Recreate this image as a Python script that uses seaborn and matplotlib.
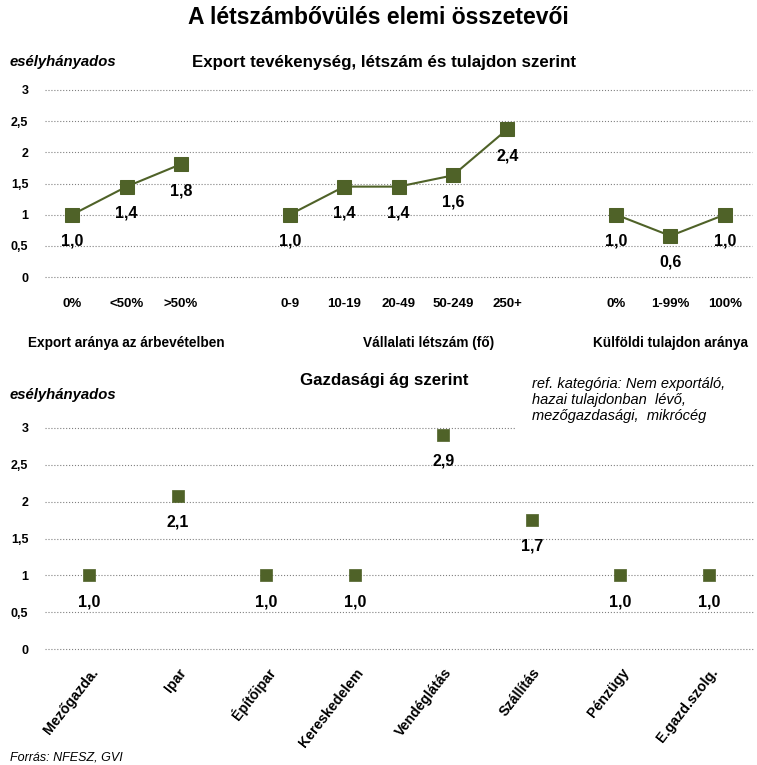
"""
A létszámbővülés elemi összetevői - esélyhányados ábra (két panel)
"""

import pandas as pd
import matplotlib.pyplot as plt
import matplotlib.transforms as mtransforms
import seaborn as sns
from matplotlib.patches import Rectangle

# Adatok - felső panel (export, létszám, tulajdon)
export_cats = ['0%', '<50%', '>50%']
export_vals = [1.0, 1.45, 1.81]
export_lbls = ['1,0', '1,4', '1,8']

letszam_cats = ['0-9', '10-19', '20-49', '50-249', '250+']
letszam_vals = [1.0, 1.45, 1.45, 1.63, 2.37]
letszam_lbls = ['1,0', '1,4', '1,4', '1,6', '2,4']

tulaj_cats = ['0%', '1-99%', '100%']
tulaj_vals = [1.0, 0.66, 1.0]
tulaj_lbls = ['1,0', '0,6', '1,0']

group_names = ['Export aránya az árbevételben',
               'Vállalati létszám (fő)',
               'Külföldi tulajdon aránya']
group_label_x = [1.0, 6.55, 11.0]

# Adatok - alsó panel (gazdasági ág)
ag_cats = ['Mezőgazda.', 'Ipar', 'Építőipar', 'Kereskedelem',
           'Vendéglátás', 'Szállítás', 'Pénzügy', 'E.gazd.szolg.']
ag_vals = [1.0, 2.08, 1.0, 1.0, 2.91, 1.75, 1.0, 1.0]
ag_lbls = ['1,0', '2,1', '1,0', '1,0', '2,9', '1,7', '1,0', '1,0']

y_ticks = [0, 0.5, 1, 1.5, 2, 2.5, 3]
y_tick_lbls = ['0', '0,5', '1', '1,5', '2', '2,5', '3']

GREEN = '#4F6228'
FONT = ['Liberation Sans', 'DejaVu Sans']


def build_top_frame():
    rows = []
    pos = 0
    groups = [(export_cats, export_vals, export_lbls),
              (letszam_cats, letszam_vals, letszam_lbls),
              (tulaj_cats, tulaj_vals, tulaj_lbls)]
    for gi, (cats, vals, lbls) in enumerate(groups):
        for c, v, l in zip(cats, vals, lbls):
            rows.append({'group': group_names[gi], 'cat': c, 'x': pos,
                         'value': v, 'label': l})
            pos += 1
        pos += 1  # rés a csoportok között
    return pd.DataFrame(rows)


def style_axis(ax):
    ax.set_ylim(0, 3)
    ax.set_yticks(y_ticks)
    ax.set_yticklabels(y_tick_lbls, fontsize=9, fontweight='bold',
                       color='black')
    ax.grid(axis='y', linestyle=':', color='#808080', linewidth=0.8)
    ax.grid(axis='x', visible=False)
    for gl in ax.get_ygridlines():
        gl.set_clip_on(False)
    for s in ax.spines.values():
        s.set_visible(False)
    ax.tick_params(axis='both', length=0, colors='black')
    ax.tick_params(axis='y', pad=12)
    ax.set_xlabel('')
    ax.set_ylabel('')


def add_value_labels(ax, df):
    for _, r in df.iterrows():
        ax.annotate(r['label'], (r['x'], r['value']), xytext=(0, -19),
                    textcoords='offset points', ha='center', va='center',
                    fontsize=11.5, fontweight='bold', color='black')


sns.set_theme(style='white')
plt.rcParams['font.family'] = FONT
plt.rcParams['text.color'] = 'black'

fig = plt.figure(figsize=(7.57, 7.65), dpi=100)

# Felső panel
df_top = build_top_frame()
ax1 = fig.add_axes([45 / 757, 1 - 277 / 765, 707 / 757, 187 / 765])
sns.lineplot(data=df_top, x='x', y='value', hue='group',
             palette=[GREEN] * 3, marker='s', markersize=10,
             markeredgecolor=GREEN, linewidth=1.5, legend=False,
             estimator=None, ax=ax1)
for line in ax1.lines:
    line.set_clip_on(False)
style_axis(ax1)
ax1.set_xlim(-0.5, df_top['x'].max() + 0.5)
ax1.set_xticks(df_top['x'])
ax1.set_xticklabels(df_top['cat'], fontsize=9.5, fontweight='bold')
ax1.tick_params(axis='x', pad=15)
add_value_labels(ax1, df_top)
for gx, g in zip(group_label_x, group_names):
    ax1.text(gx, -(343 - 277) / 187, g, transform=ax1.get_xaxis_transform(),
             ha='center', va='center', fontsize=9.8, fontweight='bold',
             clip_on=False)

# Alsó panel
df_bot = pd.DataFrame({'cat': ag_cats, 'value': ag_vals, 'label': ag_lbls})
df_bot['x'] = range(len(df_bot))
ax2 = fig.add_axes([45 / 757, 1 - 649 / 765, 708 / 757, 221 / 765])
sns.scatterplot(data=df_bot, x='x', y='value', marker='s', s=65,
                color=GREEN, edgecolor=GREEN, linewidth=0.5, ax=ax2,
                zorder=3)
style_axis(ax2)
ax2.set_xlim(-0.5, len(df_bot) - 0.5)
ax2.set_xticks(df_bot['x'])
ax2.set_xticklabels(df_bot['cat'], fontsize=10.2, fontweight='bold',
                    rotation=52, ha='right', va='center',
                    rotation_mode='anchor')
ax2.tick_params(axis='x', pad=15)
# a feliratok jobb vége kicsit a tick mellett jobbra van
shift = mtransforms.ScaledTranslation(6 / 100, 0, fig.dpi_scale_trans)
for t in ax2.get_xticklabels():
    t.set_transform(t.get_transform() + shift)
add_value_labels(ax2, df_bot)

# Szövegek
fig.text(0.5, 1 - 18 / 765, 'A létszámbővülés elemi összetevői',
         ha='center', va='center', fontsize=16.5, fontweight='bold')
fig.text(384 / 757, 1 - 63 / 765,
         'Export tevékenység, létszám és tulajdon szerint',
         ha='center', va='center', fontsize=12.2, fontweight='bold')
fig.text(10 / 757, 1 - 62 / 765, 'esélyhányados', ha='left', va='center',
         fontsize=10.7, fontweight='bold', style='italic')
fig.text(384 / 757, 1 - 381 / 765, 'Gazdasági ág szerint',
         ha='center', va='center', fontsize=12.2, fontweight='bold')
fig.text(10 / 757, 1 - 395 / 765, 'esélyhányados', ha='left', va='center',
         fontsize=10.7, fontweight='bold', style='italic')

# ref. kategória megjegyzés fehér háttéren
fig.add_artist(Rectangle((515 / 757, 1 - 436 / 765), 242 / 757, 66 / 765,
                         transform=fig.transFigure, facecolor='white',
                         edgecolor='none', zorder=5))
fig.text(532 / 757, 1 - 377 / 765,
         'ref. kategória: Nem exportáló,\nhazai tulajdonban  lévő,\n'
         'mezőgazdasági,  mikrócég',
         ha='left', va='top', fontsize=10.5, style='italic',
         linespacing=1.18, zorder=6)

fig.text(10 / 757, 1 - 757 / 765, 'Forrás: NFESZ, GVI', ha='left',
         va='center', fontsize=9, style='italic')

fig.savefig('out.png', dpi=100)
